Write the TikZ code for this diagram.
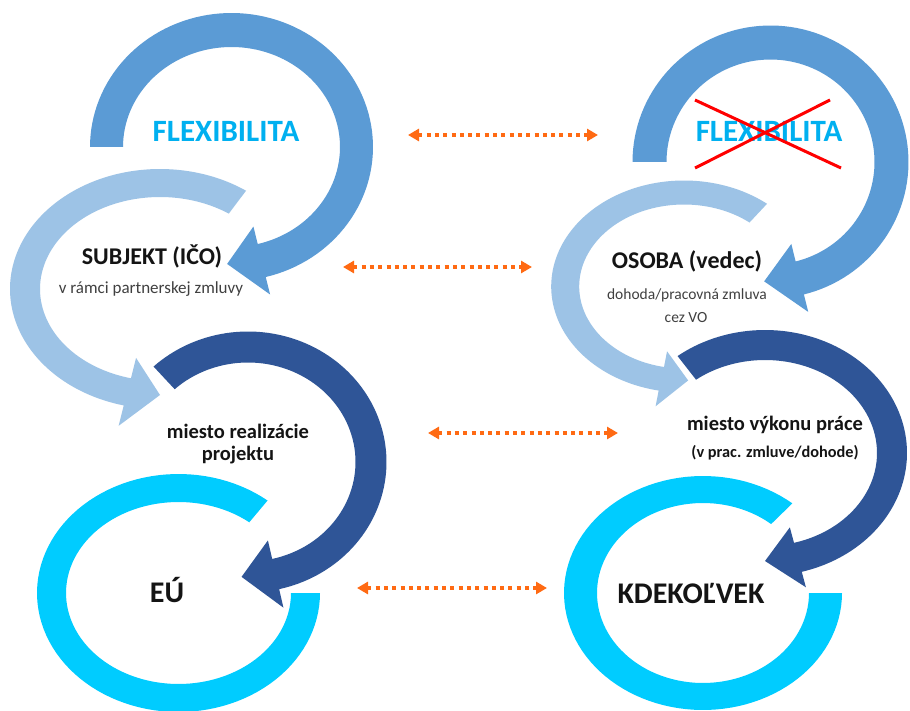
\documentclass[tikz,border=0pt]{standalone}
\usepackage{fontspec}
\setmainfont{Carlito}
\usetikzlibrary{arrows.meta}
\definecolor{cMed}{HTML}{5B9BD5}
\definecolor{cLight}{HTML}{9DC3E6}
\definecolor{cDark}{HTML}{2F5597}
\definecolor{cCyan}{HTML}{00CCFF}
\definecolor{cFlex}{HTML}{00B0F0}
\definecolor{cOrange}{HTML}{FF6A13}
\definecolor{cText}{HTML}{141414}
\definecolor{cSub}{HTML}{404040}
% circular arrow: rx_out ry_out rx_in ry_in start end tip head colour
\newcommand{\circarr}[9]{%
 \fill[#9] plot[domain=#5:#6, samples=100] ({#1*cos(\x)},{#2*sin(\x)})
   -- ({(#1+#8)*cos(#6)},{(#2+#8)*sin(#6)})
   -- ({(#1+#3)/2*cos(#7)},{(#2+#4)/2*sin(#7)})
   -- ({(#3-#8)*cos(#6)},{(#4-#8)*sin(#6)})
   -- plot[domain=#6:#5, samples=100] ({#3*cos(\x)},{#4*sin(\x)}) -- cycle;}
% block arc: rx_out ry_out rx_in ry_in start end colour
\newcommand{\blockarc}[7]{%
 \fill[#7] plot[domain=#5:#6, samples=100] ({#1*cos(\x)},{#2*sin(\x)})
   -- plot[domain=#6:#5, samples=100] ({#3*cos(\x)},{#4*sin(\x)}) -- cycle;}
\tikzset{
  txt/.style={anchor=base, inner sep=0pt},
  bigtxt/.style={txt, font=\bfseries\fontsize{31}{31}\selectfont},
  headtxt/.style={txt, text=cText, font=\bfseries\fontsize{24}{24}\selectfont},
  subtxt/.style={txt, text=cSub, font=\fontsize{17}{17}\selectfont},
  smalltxt/.style={txt, text=cSub, font=\fontsize{15.5}{15.5}\selectfont},
  midtxt/.style={txt, text=cText, font=\bfseries\fontsize{20.5}{20.5}\selectfont},
  midsmall/.style={txt, text=cText, font=\bfseries\fontsize{16.3}{16.3}\selectfont},
  placetxt/.style={txt, text=cText, font=\bfseries\fontsize{30}{30}\selectfont},
  dotarrow/.style={draw=cOrange, line width=4pt, dash pattern=on 4pt off 4.3pt,
    {Triangle[length=11pt,width=12pt]}-{Triangle[length=11pt,width=12pt]}},
  crossline/.style={draw=red, line width=3pt}
}
\begin{document}
\begin{tikzpicture}[x=1pt, y=-1pt]
\fill[white] (0,0) rectangle (910,711);
\useasboundingbox (0,0) rectangle (910,711);

% ---------- left column ----------
\begin{scope}[shift={(178.5,593)}]
  \blockarc{141.5}{119}{112.5}{91}{0}{309}{cCyan}
\end{scope}
\begin{scope}[shift={(248,462)}]
  \circarr{138.5}{130.5}{107.5}{99.5}{227}{437}{453}{19}{cDark}
\end{scope}
\begin{scope}[shift={(160,289)}]
  \circarr{150}{120}{120}{92}{305}{104}{90}{21}{cLight}
\end{scope}
\begin{scope}[shift={(231.5,147)}]
  \circarr{141.5}{134}{108.5}{100}{180}{436}{452}{18}{cMed}
\end{scope}

% ---------- right column ----------
\begin{scope}[shift={(703,593)}]
  \blockarc{139}{117}{106}{90}{0}{310}{cCyan}
\end{scope}
\begin{scope}[shift={(765,453)}]
  \circarr{142}{123}{112}{93}{232}{435}{450}{16}{cDark}
\end{scope}
\begin{scope}[shift={(684,286.5)}]
  \circarr{132.8}{106}{104.8}{82}{308.7}{101}{88}{16}{cLight}
\end{scope}
\begin{scope}[shift={(770.5,162)}]
  \circarr{138}{136.5}{104}{102.5}{180}{436}{453}{18}{cMed}
\end{scope}

% ---------- texts ----------
\node[bigtxt, text=cFlex] (flexL) at (226,142) {FLEXIBILITA};
\node[headtxt] (subj) at (152,265) {SUBJEKT (IČO)};
\node[subtxt] (subjsub) at (151,294) {v rámci partnerskej zmluvy};
\node[midtxt] (miestoLa) at (238,438) {miesto realizácie};
\node[midtxt] (miestoLb) at (238,460) {projektu};
\node[placetxt] (eu) at (167,602) {EÚ};

\node[bigtxt, text=cFlex] (flexR) at (769,142) {FLEXIBILITA};
\node[headtxt] (osoba) at (687,269) {OSOBA (vedec)};
\node[smalltxt] (osobaA) at (687,300) {dohoda/pracovná zmluva};
\node[smalltxt] (osobaB) at (686,323) {cez VO};
\node[midtxt] (miestoRa) at (775,430) {miesto výkonu práce};
\node[midsmall] (miestoRb) at (775,457) {(v prac. zmluve/dohode)};
\node[placetxt] (kde) at (691,603) {KDEKOĽVEK};

% ---------- red cross ----------
\coordinate (xa) at (695,100);
\coordinate (xb) at (841,168);
\coordinate (xc) at (695,168);
\coordinate (xd) at (830,100);
\draw[crossline] (xa) -- (xb);
\draw[crossline] (xc) -- (xd);

% ---------- orange dotted double arrows ----------
\coordinate (o1l) at (408,135);  \coordinate (o1r) at (598,135);
\coordinate (o2l) at (343,267);  \coordinate (o2r) at (532,267);
\coordinate (o3l) at (428,433);  \coordinate (o3r) at (618,433);
\coordinate (o4l) at (357,588);  \coordinate (o4r) at (547,588);
\draw[dotarrow] (o1l) -- (o1r);
\draw[dotarrow] (o2l) -- (o2r);
\draw[dotarrow] (o3l) -- (o3r);
\draw[dotarrow] (o4l) -- (o4r);
\end{tikzpicture}
\end{document}
